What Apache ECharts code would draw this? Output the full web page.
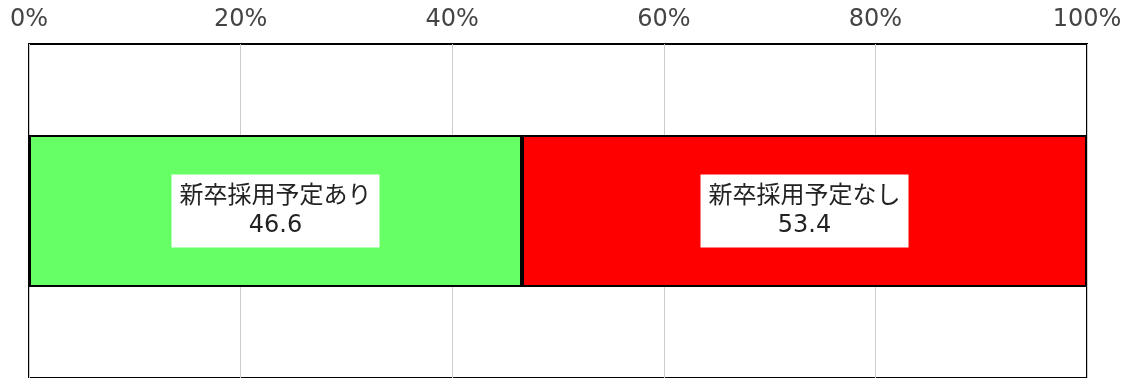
<!DOCTYPE html>
<html>
<head>
<meta charset="utf-8">
<script src="https://cdn.jsdelivr.net/npm/echarts@6/dist/echarts.min.js"></script>
<style>
  html, body { margin: 0; padding: 0; background: #fff; }
  #chart { width: 1133px; height: 378px; }
</style>
</head>
<body>
<div id="chart"></div>
<script>
const categories = [""];
const seriesNames = ["新卒採用予定あり", "新卒採用予定なし"];
const valuesYes = [46.6];
const valuesNo = [53.4];
const seriesColors = ["#66FF66", "#FF0000"];

// Latin glyphs from DejaVu (wide, like the original), kana/kanji fall back to Noto CJK
const FONT = "'DejaVu Sans', 'Noto Sans CJK JP', sans-serif";

const chart = echarts.init(document.getElementById("chart"), null, { renderer: "canvas" });

const makeSeries = (name, data, color) => ({
  type: "bar",
  name: name,
  stack: "total",
  data: data,
  barWidth: 152,
  itemStyle: { color: color, borderColor: "#000", borderWidth: 2 },
  label: {
    show: true,
    position: "inside",
    formatter: (p) => p.seriesName + "\n" + p.value,
    color: "#222",
    fontFamily: FONT,
    fontSize: 24,
    lineHeight: 29,
    align: "center",
    backgroundColor: "#fff",
    padding: [8, 8, 7, 8],
  },
});

chart.setOption({
  animation: false,
  backgroundColor: "#fff",
  grid: {
    left: 29,
    right: 46,
    top: 44,
    height: 338,
    show: true,
    borderColor: "#000",
    borderWidth: 2,
    backgroundColor: "transparent",
  },
  xAxis: {
    type: "value",
    position: "top",
    min: 0,
    max: 100,
    interval: 20,
    axisLine: { show: false },
    axisTick: { show: false },
    splitLine: { lineStyle: { color: "#cccccc", width: 1 } },
    axisLabel: {
      formatter: "{value}%",
      color: "#444",
      fontFamily: FONT,
      fontSize: 24,
      margin: 12,
    },
  },
  yAxis: {
    type: "category",
    data: categories,
    axisLine: { show: false },
    axisTick: { show: false },
    axisLabel: { show: false },
  },
  series: [
    makeSeries(seriesNames[0], valuesYes, seriesColors[0]),
    makeSeries(seriesNames[1], valuesNo, seriesColors[1]),
  ],
});
</script>
</body>
</html>
